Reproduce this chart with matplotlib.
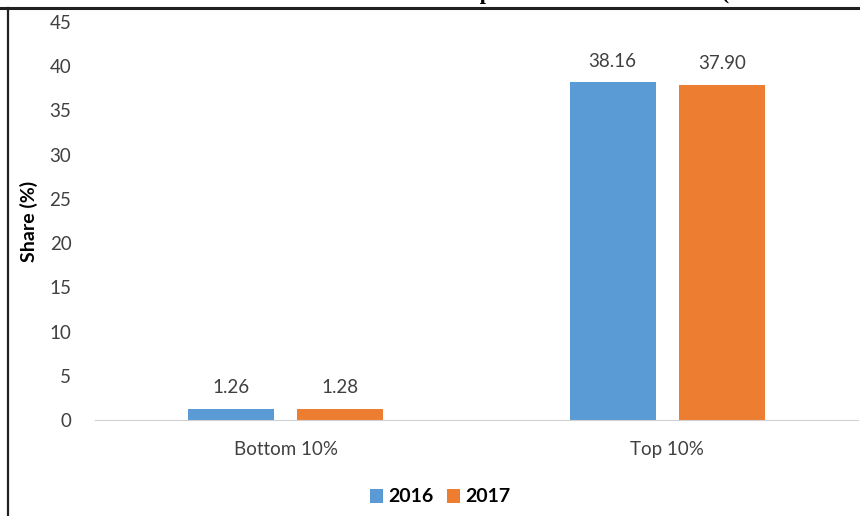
import numpy as np
import matplotlib
matplotlib.use('Agg')
import matplotlib.pyplot as plt
from matplotlib.lines import Line2D

groups = ['Bottom 10%', 'Top 10%']
years = ['2016', '2017']
share_2016 = [1.26, 38.16]
share_2017 = [1.28, 37.90]
labels_2016 = ['1.26', '38.16']
labels_2017 = ['1.28', '37.90']
yticks = [0, 5, 10, 15, 20, 25, 30, 35, 40, 45]

plt.rcParams['font.family'] = ['Lato', 'DejaVu Sans']

fig = plt.figure(figsize=(8.6, 5.16), dpi=100)
ax = fig.add_axes([95/860, 96/516, 763/860, 398/516])

x = np.arange(len(groups))
w = 0.225
off = 0.143
b1 = ax.bar(x - off, share_2016, w, color='#5B9BD5', label=years[0])
b2 = ax.bar(x + off, share_2017, w, color='#ED7D31', label=years[1])

for bars, labs in ((b1, labels_2016), (b2, labels_2017)):
    for r, t in zip(bars, labs):
        ax.annotate(t, (r.get_x() + r.get_width()/2, r.get_height()),
                    xytext=(0, 9), textcoords='offset points',
                    ha='center', va='bottom', fontsize=13.5, color='#404040')

ax.set_xlim(-0.5, 1.5)
ax.set_ylim(0, 45)
ax.set_yticks(yticks)
ax.set_xticks(x)
ax.set_xticklabels(groups)
ax.tick_params(axis='both', length=0, labelsize=13.5, labelcolor='#404040')
ax.tick_params(axis='y', pad=17)
ax.tick_params(axis='x', pad=15)
for s in ['top', 'right', 'left']:
    ax.spines[s].set_visible(False)
ax.spines['bottom'].set_color('#D0D0D0')
ax.set_ylabel('Share (%)', fontsize=14, fontweight='bold', labelpad=8)

leg = fig.legend(loc='center', bbox_to_anchor=(440/860, 1 - 497/516), ncol=2,
                 frameon=False, handlelength=0.7, handleheight=0.7,
                 handletextpad=0.25, columnspacing=0.7,
                 prop={'weight': 'bold', 'size': 14})

# title cut off by the top of the frame, only descenders peek in
fig.text(0.679, 1.0 + 1/516, 'Income Share of Top and Bottom 10 Percent (2016 and 2017)',
         ha='center', va='baseline', fontsize=16, fontweight='bold',
         family='Liberation Serif')

# frame lines
fig.add_artist(Line2D([0, 1], [1 - 8/516, 1 - 8/516], color='#202020', lw=2.2))
fig.add_artist(Line2D([8/860, 8/860], [0, 1 - 8/516], color='#202020', lw=1.6))

fig.savefig('out.png', dpi=100, facecolor='white')
